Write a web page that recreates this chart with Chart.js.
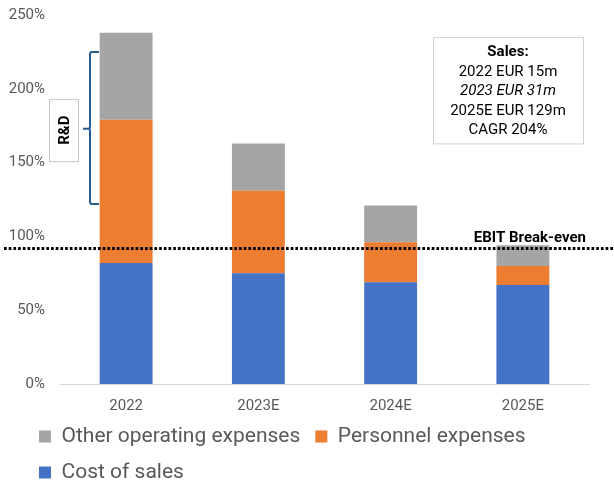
<!DOCTYPE html>
<html>
<head>
<meta charset="utf-8">
<script src="https://cdn.jsdelivr.net/npm/chart.js@4/dist/chart.umd.min.js"></script>
<style>
  html, body { margin: 0; padding: 0; background: #fff; }
  #wrap { width: 614px; height: 481px; }
</style>
</head>
<body>
<div id="wrap"><canvas id="costChart"></canvas></div>
<script>
const years = ["2022", "2023E", "2024E", "2025E"];
const costOfSales = [82, 75, 69, 67];
const personnel = [97, 56, 27, 13];
const otherOpex = [59, 32, 25, 14];
const yTicks = [0, 50, 100, 150, 200, 250];
const breakEven = 92;
const salesNote = ["Sales:", "2022 EUR 15m", "2023 EUR 31m", "2025E EUR 129m", "CAGR 204%"];

const font = "Roboto";
const grey = "#595959";

// extra drawings: break-even line, sales box, R&D bracket
const annotate = {
  id: "annotate",
  afterLayout(chart) {
    const lg = chart.legend;
    lg.left += 24; lg.right += 24;
    lg.top += 12; lg.bottom += 12;
    // let the x labels draw below the shrunken axis box
    chart.scales.x.bottom = chart.scales.x.top + 40;
  },
  afterDatasetsDraw(chart) {
    const { ctx, chartArea, scales: { y } } = chart;
    ctx.save();

    // dotted break-even line
    const yb = Math.round(y.getPixelForValue(breakEven)) + 0.5;
    ctx.strokeStyle = "#000";
    ctx.lineWidth = 3;
    ctx.setLineDash([2.7, 2]);
    ctx.beginPath();
    ctx.moveTo(4, yb);
    ctx.lineTo(chart.width, yb);
    ctx.stroke();
    ctx.setLineDash([]);

    ctx.fillStyle = "#000";
    ctx.font = "bold 15px " + font;
    ctx.textAlign = "right";
    ctx.textBaseline = "middle";
    ctx.fillText("EBIT Break-even", chartArea.right - 3, yb - 10);

    // sales box
    const bx = chartArea.right - 156, bw = 150;
    const byTop = y.getPixelForValue(235), byBot = y.getPixelForValue(163);
    ctx.fillStyle = "#fff";
    ctx.fillRect(bx, byTop, bw, byBot - byTop);
    ctx.strokeStyle = "#d0d0d0";
    ctx.lineWidth = 1;
    ctx.strokeRect(bx + 0.5, byTop + 0.5, bw, byBot - byTop);
    ctx.fillStyle = "#000";
    ctx.textAlign = "center";
    salesNote.forEach((t, i) => {
      ctx.font = (i === 0 ? "bold " : i === 2 ? "italic " : "") + "15px " + font;
      ctx.fillText(t, bx + bw / 2, byTop + 15.5 + i * 19.4);
    });

    // R&D bracket
    const top = y.getPixelForValue(225), bot = y.getPixelForValue(122), mid = y.getPixelForValue(173);
    const bxl = 90;
    ctx.strokeStyle = "#255e91";
    ctx.lineWidth = 2;
    ctx.beginPath();
    ctx.moveTo(99, top);
    ctx.lineTo(bxl + 2, top);
    ctx.quadraticCurveTo(bxl, top, bxl, top + 2);
    ctx.lineTo(bxl, mid - 2);
    ctx.quadraticCurveTo(bxl, mid, bxl - 2, mid);
    ctx.lineTo(83, mid);
    ctx.moveTo(bxl - 2, mid);
    ctx.quadraticCurveTo(bxl, mid, bxl, mid + 2);
    ctx.lineTo(bxl, bot - 2);
    ctx.quadraticCurveTo(bxl, bot, bxl + 2, bot);
    ctx.lineTo(99, bot);
    ctx.stroke();

    const rTop = y.getPixelForValue(193), rBot = y.getPixelForValue(151);
    ctx.fillStyle = "#fff";
    ctx.fillRect(49, rTop, 30, rBot - rTop);
    ctx.strokeStyle = "#c8c8c8";
    ctx.lineWidth = 1;
    ctx.strokeRect(49.5, rTop + 0.5, 29, rBot - rTop);
    ctx.translate(64, (rTop + rBot) / 2);
    ctx.rotate(-Math.PI / 2);
    ctx.fillStyle = "#000";
    ctx.font = "bold 15px " + font;
    ctx.textAlign = "center";
    ctx.textBaseline = "middle";
    ctx.fillText("R&D", 0, 1);
    ctx.restore();
  }
};

new Chart(document.getElementById("costChart"), {
  type: "bar",
  data: {
    labels: years,
    datasets: [
      { label: "Cost of sales", data: costOfSales, backgroundColor: "#4472c4" },
      { label: "Personnel expenses", data: personnel, backgroundColor: "#ed7d31" },
      { label: "Other operating expenses", data: otherOpex, backgroundColor: "#a5a5a5" }
    ]
  },
  options: {
    responsive: true,
    maintainAspectRatio: false,
    animation: false,
    layout: { padding: { top: 15, right: 25, left: 0, bottom: 0 } },
    datasets: { bar: { categoryPercentage: 1, barPercentage: 0.4, borderWidth: 0 } },
    scales: {
      x: {
        stacked: true,
        grid: { display: false, drawTicks: false },
        border: { display: true, color: "#d9d9d9", width: 1 },
        ticks: { color: grey, font: { family: font, size: 15 }, padding: 13 },
        afterFit: (s) => { s.height = 15; }
      },
      y: {
        stacked: true,
        min: 0,
        max: 250,
        afterBuildTicks: (s) => { s.ticks = yTicks.map(v => ({ value: v })); },
        grid: { display: false, drawTicks: false },
        border: { display: false },
        ticks: { color: grey, font: { family: font, size: 15 }, padding: 15, callback: (v) => v + "%" },
        afterFit: (s) => { s.width = 60; s.paddingTop = 0; s.paddingBottom = 0; }
      }
    },
    plugins: {
      tooltip: { enabled: false },
      legend: {
        position: "bottom",
        align: "start",
        reverse: true,
        labels: {
          boxWidth: 12,
          boxHeight: 12,
          padding: 15,
          color: grey,
          font: { family: font, size: 21 }
        }
      }
    }
  },
  plugins: [annotate]
});
</script>
</body>
</html>
